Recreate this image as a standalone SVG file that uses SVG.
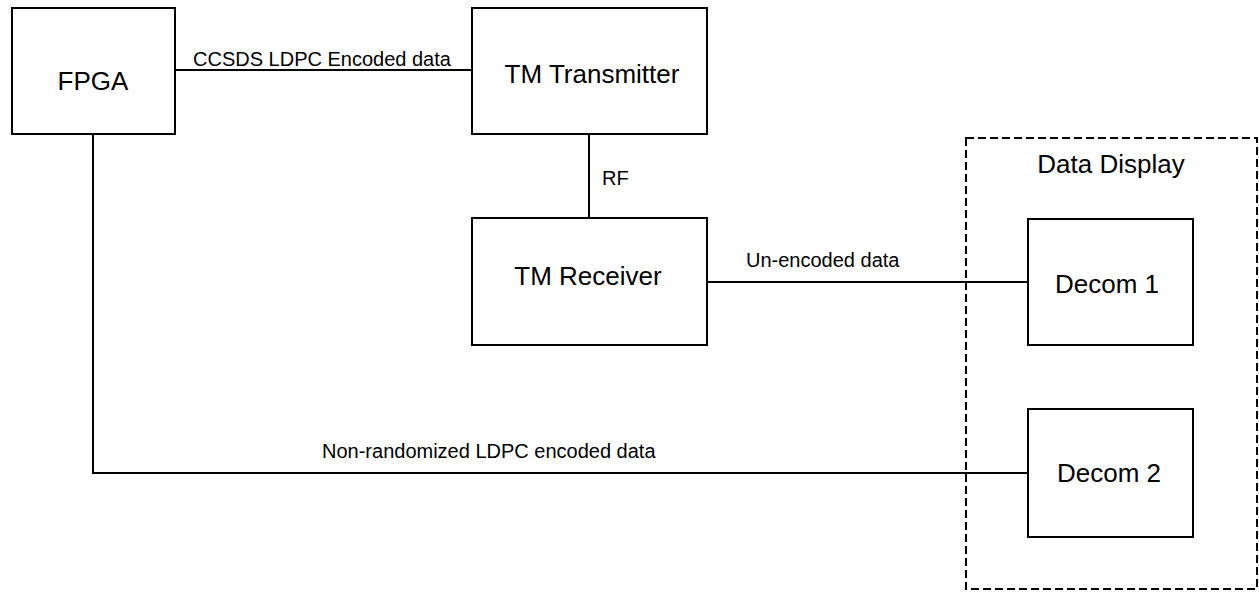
<svg xmlns="http://www.w3.org/2000/svg" width="1259" height="600" viewBox="0 0 1259 600">
  <style>
    .box { fill: #ffffff; stroke: #000000; stroke-width: 2; }
    .group { fill: none; stroke: #000000; stroke-width: 2; stroke-dasharray: 8 4; }
    .wire { fill: none; stroke: #000000; stroke-width: 2; }
    .big { font-family: "Liberation Sans", Arial, sans-serif; font-size: 26px; fill: #000000; text-anchor: middle; }
    .small { font-family: "Liberation Sans", Arial, sans-serif; font-size: 20px; fill: #000000; text-anchor: start; }
  </style>
  <rect width="1259" height="600" fill="#ffffff"/>

  <!-- Data Display container -->
  <g id="data-display">
    <rect class="group" x="966" y="138" width="291" height="451"/>
    <text class="big" x="1111" y="173">Data Display</text>
  </g>

  <!-- Connectors -->
  <g id="connectors">
    <line class="wire" x1="175" y1="70" x2="472" y2="70"/>
    <text class="small" x="193" y="66">CCSDS LDPC Encoded data</text>
    <line class="wire" x1="589" y1="134" x2="589" y2="218"/>
    <text class="small" x="602" y="185">RF</text>
    <line class="wire" x1="707" y1="282" x2="1028" y2="282"/>
    <text class="small" x="746" y="267">Un-encoded data</text>
    <polyline class="wire" points="93,134 93,473 1028,473"/>
    <text class="small" x="322" y="458">Non-randomized LDPC encoded data</text>
  </g>

  <g id="fpga">
    <rect class="box" x="12" y="8" width="163" height="126"/>
    <text class="big" x="93" y="90">FPGA</text>
  </g>

  <g id="tm-transmitter">
    <rect class="box" x="472" y="8" width="235" height="126"/>
    <text class="big" x="592" y="83">TM Transmitter</text>
  </g>

  <g id="tm-receiver">
    <rect class="box" x="472" y="218" width="235" height="127"/>
    <text class="big" x="588" y="285">TM Receiver</text>
  </g>

  <g id="decom-1">
    <rect class="box" x="1028" y="219" width="165" height="126"/>
    <text class="big" x="1107" y="293">Decom 1</text>
  </g>

  <g id="decom-2">
    <rect class="box" x="1028" y="409" width="165" height="128"/>
    <text class="big" x="1109" y="482">Decom 2</text>
  </g>
</svg>
